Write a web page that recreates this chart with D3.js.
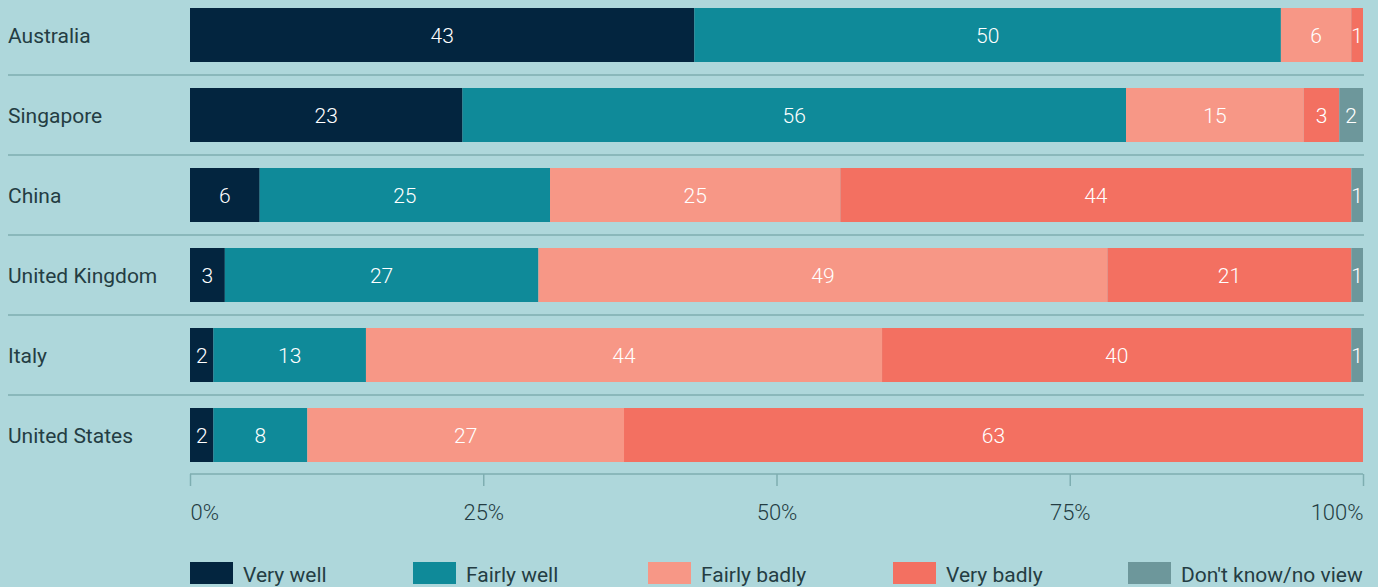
<!DOCTYPE html>
<html>
<head>
<meta charset="utf-8">
<script src="https://cdn.jsdelivr.net/npm/d3@7"></script>
<style>
  body { margin: 0; background: #aed7db; }
  svg { display: block; font-family: "Roboto", "Open Sans", sans-serif; }
</style>
</head>
<body>
<div id="chart"></div>
<script>
var countries = ["Australia", "Singapore", "China", "United Kingdom", "Italy", "United States"];
var answers = ["Very well", "Fairly well", "Fairly badly", "Very badly", "Don't know/no view"];
var veryWell    = [43, 23, 6, 3, 2, 2];
var fairlyWell  = [50, 56, 25, 27, 13, 8];
var fairlyBadly = [6, 15, 25, 49, 44, 27];
var veryBadly   = [1, 3, 44, 21, 40, 63];
var dontKnow    = [0, 2, 1, 1, 1, 0];
var tickValues  = [0, 25, 50, 75, 100];

var colors = ["#03253f", "#0f8a99", "#f79786", "#f37061", "#6d979b"];
var series = [veryWell, fairlyWell, fairlyBadly, veryBadly, dontKnow];

var width = 1378, height = 587;
var svg = d3.select("#chart").append("svg")
  .attr("width", width)
  .attr("height", height);

// rows normalised to 100 because the rounded answers don't always add up
var rows = countries.map(function(c, i) {
  var total = d3.sum(series, function(s) { return s[i]; });
  var acc = 0;
  var segs = series.map(function(s, k) {
    var v = s[i];
    var seg = { key: k, value: v, x0: acc / total * 100, x1: (acc + v) / total * 100 };
    acc += v;
    return seg;
  });
  return { country: c, segs: segs };
});

var x = d3.scaleLinear().domain([0, 100]).range([190, 1363]);
var y = d3.scaleBand().domain(countries).range([-5, 475]).paddingInner(0.325).paddingOuter(0.1625);

// separators between rows
svg.selectAll(".sep")
  .data(countries.slice(1))
  .enter()
  .append("line")
    .attr("x1", 8)
    .attr("x2", 1364)
    .attr("y1", function(d) { return y(d) - y.step() * y.paddingInner() / 2; })
    .attr("y2", function(d) { return y(d) - y.step() * y.paddingInner() / 2; })
    .style("stroke", "#7eaeb1")
    .style("stroke-width", 1.5);

var row = svg.selectAll(".row")
  .data(rows)
  .enter()
  .append("g")
    .attr("transform", function(d) { return "translate(0," + y(d.country) + ")"; });

row.append("text")
  .attr("x", 8)
  .attr("y", y.bandwidth() / 2 + 1)
  .attr("dy", "0.35em")
  .style("font-size", "21px")
  .style("fill", "#243d43")
  .text(function(d) { return d.country; });

var seg = row.selectAll(".seg")
  .data(function(d) { return d.segs.filter(function(s) { return s.value > 0; }); })
  .enter()
  .append("g");

seg.append("rect")
  .attr("x", function(d) { return x(d.x0); })
  .attr("width", function(d) { return x(d.x1) - x(d.x0); })
  .attr("y", 0)
  .attr("height", y.bandwidth())
  .style("fill", function(d) { return colors[d.key]; });

seg.append("text")
  .attr("x", function(d) { return (x(d.x0) + x(d.x1)) / 2; })
  .attr("y", y.bandwidth() / 2 + 1)
  .attr("dy", "0.35em")
  .attr("text-anchor", "middle")
  .style("font-size", "21px")
  .style("font-weight", 300)
  .style("fill", "#ffffff")
  .text(function(d) { return d.value; });

// axis
var axis = svg.append("g")
  .attr("transform", "translate(0,474)")
  .call(d3.axisBottom(x).tickValues(tickValues).tickSize(12).tickPadding(18)
    .tickFormat(function(d) { return d + "%"; }));
axis.select(".domain").style("stroke", "#7eaeb1").style("stroke-width", 1.5)
  .attr("d", "M" + x(0) + ",0H" + x(100));
axis.selectAll(".tick line").style("stroke", "#7eaeb1").style("stroke-width", 1.5);
axis.selectAll(".tick text")
  .style("font-size", "22px")
  .style("font-weight", 300)
  .style("font-family", "Roboto, sans-serif")
  .style("fill", "#243d43")
  .attr("text-anchor", function(d) { return d === 0 ? "start" : (d === 100 ? "end" : "middle"); });

// legend
var legendX = [190, 413, 648, 893, 1128];
var legend = svg.selectAll(".legend")
  .data(answers)
  .enter()
  .append("g")
    .attr("transform", function(d, i) { return "translate(" + legendX[i] + ",562)"; });

legend.append("rect")
  .attr("width", 43)
  .attr("height", 22)
  .style("fill", function(d, i) { return colors[i]; });

legend.append("text")
  .attr("x", 53)
  .attr("y", 13)
  .attr("dy", "0.35em")
  .style("font-size", "21px")
  .style("fill", "#243d43")
  .text(function(d) { return d; });
</script>
</body>
</html>
